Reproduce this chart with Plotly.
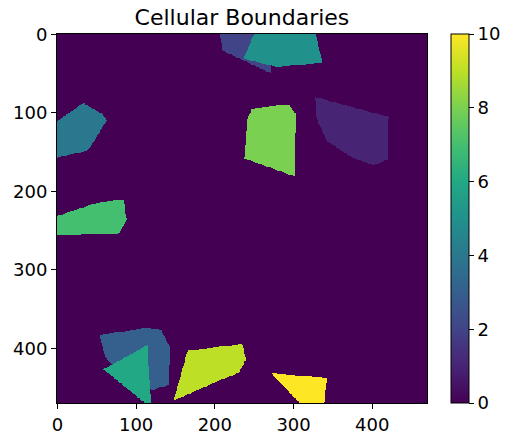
import numpy as np
import plotly.graph_objects as go

# Image size (pixels)
img_size = 470

# Cell labels and their polygon vertices (x, y) in image coordinates
labels = [2, 5, 4, 8, 1, 7, 3, 6, 9, 10]
poly_x = [
    [205.7, 209.2, 272.0, 272.0, 262.0],
    [251.5, 236.6, 279.1, 336.4, 327.0],
    [-5.0, 33.1, 56.5, 62.8, 39.4, -5.0],
    [247.3, 293.9, 302.4, 301.1, 237.9, 241.0],
    [327.8, 421.1, 419.0, 402.0, 374.5, 342.7, 329.1],
    [-5.0, 50.1, 83.9, 88.3, 77.6, 39.4, -5.0],
    [53.4, 111.6, 131.9, 142.6, 141.3, 120.2, 67.0, 60.7],
    [114.5, 58.5, 119.0],
    [165.4, 234.6, 239.7, 230.3, 207.0, 147.6],
    [271.5, 342.8, 338.0, 314.0],
]
poly_y = [
    [-5.0, 20.4, 50.0, 20.0, -5.0],
    [-5.0, 30.9, 41.6, 36.0, -5.0],
    [113.6, 87.4, 101.1, 109.2, 147.6, 158.3],
    [94.5, 89.1, 101.0, 180.7, 158.2, 107.3],
    [79.8, 105.2, 159.5, 166.8, 156.9, 136.1, 107.3],
    [232.8, 214.6, 210.3, 235.8, 254.5, 254.8, 255.7],
    [382.7, 374.3, 376.4, 397.7, 446.6, 452.9, 418.7, 410.3],
    [395.7, 426.6, 476.0],
    [402.9, 394.4, 413.9, 430.9, 440.2, 466.5],
    [431.3, 437.7, 476.0, 476.0],
]

# Colorbar ticks
cbar_ticks = [0, 2, 4, 6, 8, 10]
axis_ticks = [0, 100, 200, 300, 400]


def inside(px, py, xs, ys):
    res = np.zeros(px.shape, dtype=bool)
    n = len(xs)
    j = n - 1
    for i in range(n):
        xi, yi, xj, yj = xs[i], ys[i], xs[j], ys[j]
        cond = ((yi > py) != (yj > py))
        with np.errstate(divide="ignore", invalid="ignore"):
            xint = (xj - xi) * (py - yi) / (yj - yi) + xi
        res ^= cond & (px < xint)
        j = i
    return res


gx, gy = np.meshgrid(np.arange(img_size), np.arange(img_size))
z = np.zeros((img_size, img_size))
for lab, xs, ys in zip(labels, poly_x, poly_y):
    z[inside(gx, gy, xs, ys)] = lab

viridis = [
    [0.0, "#440154"], [0.1, "#482475"], [0.2, "#414487"], [0.3, "#355f8d"],
    [0.4, "#2a788e"], [0.5, "#21918c"], [0.6, "#22a884"], [0.7, "#44bf70"],
    [0.8, "#7ad151"], [0.9, "#bddf26"], [1.0, "#fde725"],
]

fig = go.Figure(go.Heatmap(
    z=z, x0=0, dx=1, y0=0, dy=1, colorscale=viridis, zmin=0, zmax=10,
    zsmooth=False, hoverinfo="skip",
    colorbar=dict(
        x=1.0657, xanchor="left", xpad=0, ypad=0, y=0.5, yanchor="middle",
        len=369, lenmode="pixels", thickness=18, thicknessmode="pixels",
        outlinewidth=1, outlinecolor="black",
        tickvals=cbar_ticks, ticks="outside", ticklen=5, tickwidth=1,
        tickcolor="black", tickfont=dict(size=18, color="black"),
    ),
))

fig.update_layout(
    width=513, height=442,
    margin=dict(l=57, r=86, t=34, b=39, autoexpand=False),
    paper_bgcolor="white", plot_bgcolor="white",
    font=dict(family="DejaVu Sans", color="black"),
    title=dict(text="Cellular Boundaries", x=0.4717, xanchor="center",
               y=1 - 17 / 442, yanchor="middle", font=dict(size=22, color="black")),
    xaxis=dict(range=[-0.5, 469.5], tickvals=axis_ticks, ticks="outside",
               ticklen=5, tickwidth=1, tickcolor="black", showline=True,
               linecolor="black", linewidth=1, mirror=True, showgrid=False,
               zeroline=False, tickfont=dict(size=18), automargin=False),
    yaxis=dict(range=[469.5, -0.5], tickvals=axis_ticks, ticks="outside",
               ticklen=5, tickwidth=1, tickcolor="black", showline=True,
               linecolor="black", linewidth=1, mirror=True, showgrid=False,
               zeroline=False, tickfont=dict(size=18), automargin=False),
)

fig.write_html("out.html")
